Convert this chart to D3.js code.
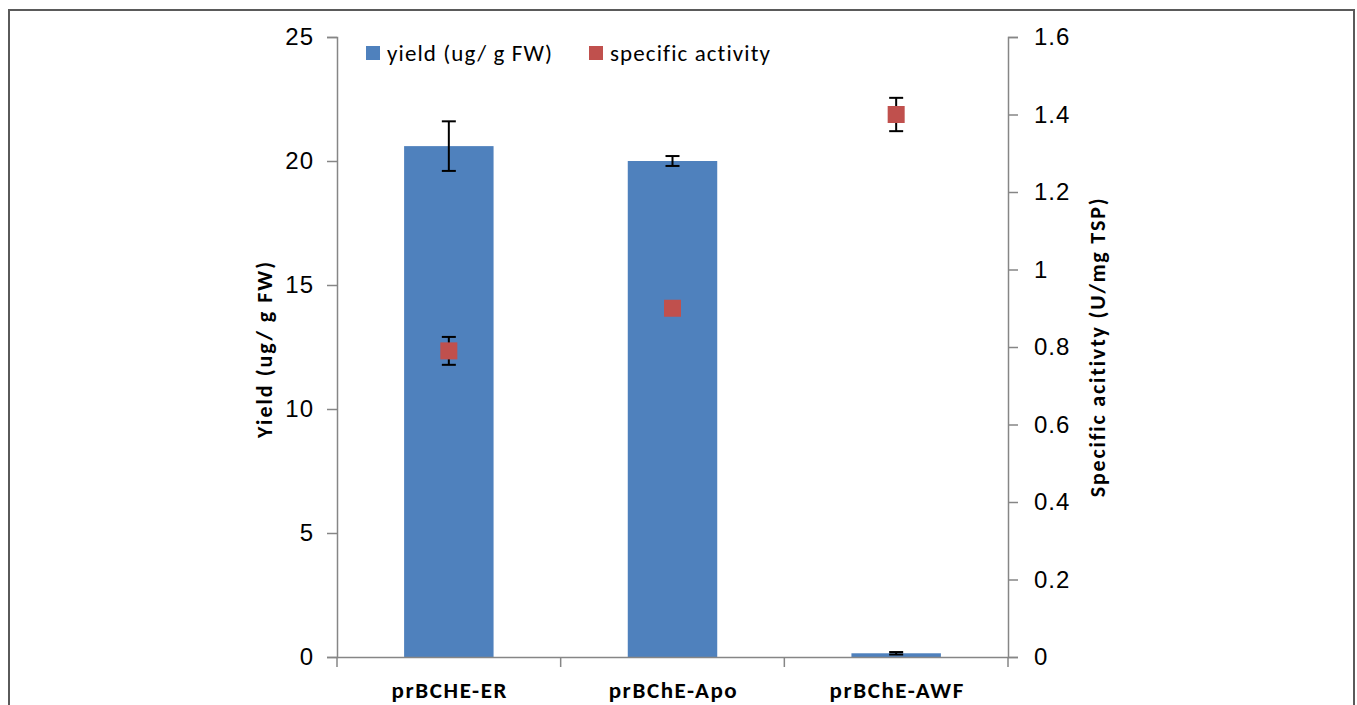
<!DOCTYPE html>
<html>
<head>
<meta charset="utf-8">
<script src="https://cdn.jsdelivr.net/npm/d3@7"></script>
<style>
  html, body { margin: 0; padding: 0; background: #fff; }
  svg { display: block; font-family: Carlito, "Liberation Sans Narrow", "Open Sans", sans-serif; }
</style>
</head>
<body>
<div id="chart"></div>
<script>
// datos
const categorias = ['prBCHE-ER', 'prBChE-Apo', 'prBChE-AWF'];
const rendimiento = [20.6, 20.0, 0.15];
const rendimientoErr = [1.0, 0.2, 0.05];
const actividad = [0.79, 0.90, 1.40];
const actividadErr = [0.036, 0, 0.043];
const ticksIzq = [0, 5, 10, 15, 20, 25];
const ticksDer = [0, 0.2, 0.4, 0.6, 0.8, 1, 1.2, 1.4, 1.6];

const width = 1357, height = 705;
const margin = { left: 337, right: 349, top: 37, bottom: 48 };

const svg = d3.select('#chart').append('svg')
  .attr('width', width)
  .attr('height', height);

// marco
svg.append('rect')
  .attr('x', 9).attr('y', 10)
  .attr('width', 1345).attr('height', 720)
  .attr('fill', 'none')
  .attr('stroke', '#5a5a5a')
  .attr('stroke-width', 2);

const x = d3.scaleBand()
  .domain(categorias)
  .range([margin.left, width - margin.right])
  .paddingInner(0.6)
  .paddingOuter(0.3);

const xTicks = d3.scaleBand()
  .domain(categorias)
  .range([margin.left, width - margin.right]);

const yIzq = d3.scaleLinear().domain([0, 25]).range([height - margin.bottom, margin.top]);
const yDer = d3.scaleLinear().domain([0, 1.6]).range([height - margin.bottom, margin.top]);

const base = height - margin.bottom;

// barras
svg.append('g')
  .selectAll('rect')
  .data(categorias)
  .join('rect')
  .attr('x', d => x(d))
  .attr('width', x.bandwidth())
  .attr('y', (d, i) => yIzq(rendimiento[i]))
  .attr('height', (d, i) => base - yIzq(rendimiento[i]))
  .attr('fill', '#4F81BD');

// barras de error
const errG = svg.append('g').attr('stroke', '#000').attr('stroke-width', 2);
function barraError(cx, hi, lo) {
  errG.append('line').attr('x1', cx).attr('x2', cx).attr('y1', hi).attr('y2', lo);
  errG.append('line').attr('x1', cx - 7).attr('x2', cx + 7).attr('y1', hi).attr('y2', hi);
  errG.append('line').attr('x1', cx - 7).attr('x2', cx + 7).attr('y1', lo).attr('y2', lo);
}
categorias.forEach((c, i) => {
  const cx = x(c) + x.bandwidth() / 2;
  barraError(cx, yIzq(rendimiento[i] + rendimientoErr[i]), yIzq(rendimiento[i] - rendimientoErr[i]));
  if (actividadErr[i]) {
    barraError(cx, yDer(actividad[i] + actividadErr[i]), yDer(actividad[i] - actividadErr[i]));
  }
});

// marcadores
const ms = 17;
svg.append('g')
  .selectAll('rect')
  .data(categorias)
  .join('rect')
  .attr('x', d => x(d) + x.bandwidth() / 2 - ms / 2)
  .attr('y', (d, i) => yDer(actividad[i]) - ms / 2)
  .attr('width', ms).attr('height', ms)
  .attr('fill', '#C0504D');

// ejes
const ejeColor = '#868686';
const gIzq = svg.append('g')
  .attr('transform', `translate(${margin.left},0)`)
  .call(d3.axisLeft(yIzq).tickValues(ticksIzq).tickSize(10).tickPadding(14));
const gDer = svg.append('g')
  .attr('transform', `translate(${width - margin.right},0)`)
  .call(d3.axisRight(yDer).tickValues(ticksDer).tickFormat(d => d3.format('~g')(d)).tickSize(10).tickPadding(16));
const gX = svg.append('g')
  .attr('transform', `translate(0,${base})`)
  .call(d3.axisBottom(xTicks).tickSize(0).tickFormat(''));

[gIzq, gDer, gX].forEach(g => {
  g.select('.domain').attr('stroke', ejeColor).attr('stroke-width', 1.5);
  g.selectAll('.tick line').attr('stroke', ejeColor).attr('stroke-width', 1.5);
  g.selectAll('.tick text').attr('fill', '#000').attr('font-size', 24).attr('letter-spacing', 1);
});
gIzq.selectAll('.tick text').attr('dx', 1);

// separadores del eje x
const limites = categorias.map(c => xTicks(c)).concat([width - margin.right]);
gX.append('g').selectAll('line')
  .data(limites)
  .join('line')
  .attr('x1', d => d).attr('x2', d => d)
  .attr('y1', 0).attr('y2', 10)
  .attr('stroke', ejeColor).attr('stroke-width', 1.5);

// etiquetas de categoria
svg.append('g')
  .selectAll('text')
  .data(categorias)
  .join('text')
  .attr('x', d => xTicks(d) + xTicks.bandwidth() / 2 + 1)
  .attr('y', base + 41)
  .attr('text-anchor', 'middle')
  .attr('font-size', 23)
  .attr('font-weight', 'bold')
  .attr('letter-spacing', 1.6)
  .text(d => d);

// titulos de ejes
svg.append('text')
  .attr('transform', `translate(272,${(margin.top + base) / 2 + 2}) rotate(-90)`)
  .attr('text-anchor', 'middle')
  .attr('font-size', 22)
  .attr('font-weight', 'bold')
  .attr('letter-spacing', 2)
  .text('Yield (ug/ g FW)');

svg.append('text')
  .attr('transform', `translate(1105,${(margin.top + base) / 2}) rotate(-90)`)
  .attr('text-anchor', 'middle')
  .attr('font-size', 22)
  .attr('font-weight', 'bold')
  .attr('letter-spacing', 1.8)
  .text('Specific acitivty (U/mg TSP)');

// leyenda
const leyenda = [
  { label: 'yield (ug/ g FW)', color: '#4F81BD', x: 366 },
  { label: 'specific activity', color: '#C0504D', x: 589 }
];
const lg = svg.append('g');
leyenda.forEach(l => {
  lg.append('rect').attr('x', l.x).attr('y', 46).attr('width', 14).attr('height', 14).attr('fill', l.color);
  lg.append('text').attr('x', l.x + 21).attr('y', 61).attr('font-size', 23)
    .attr('letter-spacing', 1.1).text(l.label);
});
</script>
</body>
</html>
